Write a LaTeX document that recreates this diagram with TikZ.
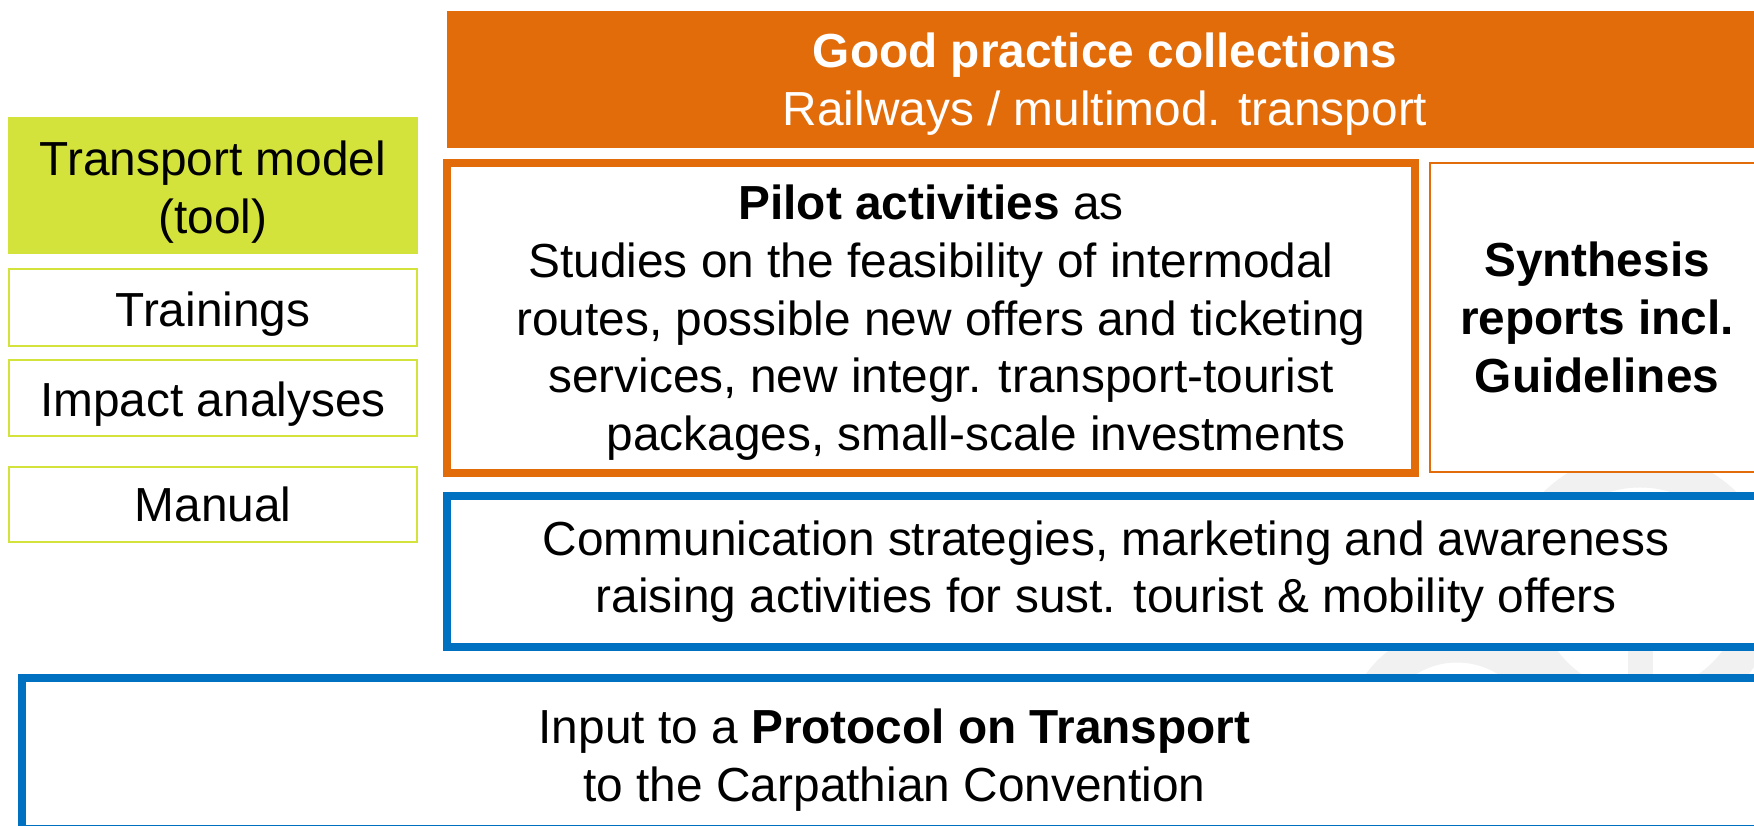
\documentclass[tikz,border=0pt]{standalone}
\usepackage{fontspec}
\setmainfont{Liberation Sans}
\definecolor{cOrange}{HTML}{E36C0A}
\definecolor{cLime}{HTML}{D4E23C}
\definecolor{cBlue}{HTML}{0070C0}
\definecolor{cWater}{HTML}{F1F1F1}
\newcommand{\dnA}{\rule{0pt}{1.0em}}
\newcommand{\dnB}{\rule{0pt}{0.92em}}
\begin{document}
\begin{tikzpicture}[x=0.1mm,y=-0.1mm,
  every node/.style={inner sep=0pt, outer sep=0pt, align=center,
    font=\fontsize{13.6pt}{16.4pt}\selectfont},
  boxbase/.style={rectangle, anchor=north west},
  orangefill/.style={boxbase, fill=cOrange, text=white},
  limefill/.style={boxbase, fill=cLime},
  limeline/.style={boxbase, draw=cLime, line width=0.2mm, fill=white},
  orangethick/.style={boxbase, draw=cOrange, line width=0.8mm, fill=white},
  orangethin/.style={boxbase, draw=cOrange, line width=0.2mm, fill=white},
  bluethick/.style={boxbase, draw=cBlue, line width=0.8mm, fill=white},
  wm/.style={draw=cWater, line width=3.5mm}]
\useasboundingbox (0,0) rectangle (1754,826);
\clip (0,0) rectangle (1754,826);
\fill[white] (0,0) rectangle (1754,826);
% faint watermark
\draw[wm] (1640,590) circle[radius=120];
\draw[wm] (1457,740) circle[radius=95];
\fill[cWater] (1628,600) rectangle (1653,700);
% boxes
\node[orangefill, minimum width=131.6mm, minimum height=13.7mm] (gp) at (447,11)
  {\dnB\textbf{Good practice collections}\\Railways / multimod. transport};
\node[limefill, minimum width=41mm, minimum height=13.7mm] (tm) at (8,117)
  {\dnA Transport model\\(tool)};
\node[limeline, minimum width=40.8mm, minimum height=7.7mm] (tr) at (9,269) {\dnA Trainings};
\node[limeline, minimum width=40.8mm, minimum height=7.6mm] (ia) at (9,360) {\dnA Impact analyses};
\node[limeline, minimum width=40.8mm, minimum height=7.5mm] (mn) at (9,467) {Manual};
\node[orangethick, minimum width=96.8mm, minimum height=31mm] (pa) at (447,163)
  {\dnB\textbf{Pilot activities} as\\
   Studies on the feasibility of intermodal\\
   \makebox[2mm]{}routes, possible new offers and ticketing\\
   \makebox[2mm]{}services, new integr. transport-tourist\\
   \makebox[9mm]{}packages, small-scale investments};
\node[orangethin, minimum width=33.4mm, minimum height=30.9mm] (sy) at (1430,163)
  {\textbf{Synthesis}\\\textbf{reports incl.}\\\textbf{Guidelines}};
\node[bluethick, minimum width=131.8mm, minimum height=15.1mm] (cm) at (447,496)
  {Communication strategies, marketing and awareness\\raising activities for sust. tourist \& mobility offers};
\node[bluethick, minimum width=174.5mm, minimum height=15.1mm] (ip) at (22,678)
  {\dnA Input to a \textbf{Protocol on Transport}\\to the Carpathian Convention};
\end{tikzpicture}
\end{document}
